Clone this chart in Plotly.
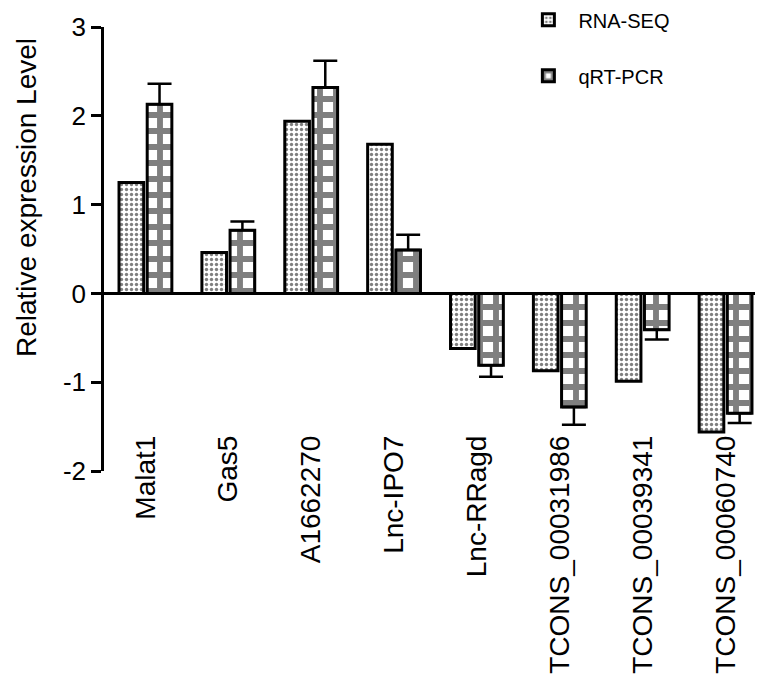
import plotly.graph_objects as go

categories = ["Malat1", "Gas5", "A1662270", "Lnc-IPO7", "Lnc-RRagd",
              "TCONS_00031986", "TCONS_00039341", "TCONS_00060740"]
rna_seq = [1.25, 0.46, 1.94, 1.68, -0.62, -0.87, -0.99, -1.56]
qrt_pcr = [2.13, 0.71, 2.32, 0.49, -0.81, -1.28, -0.41, -1.35]
qrt_err = [0.23, 0.10, 0.30, 0.17, 0.13, 0.20, 0.11, 0.11]
y_ticks = [-2, -1, 0, 1, 2, 3]
y_ticktext = ["-2", "-1", "0", "1", "2", "3"]
y_title = "Relative expression Level"

err_up = [e if v >= 0 else 0 for v, e in zip(qrt_pcr, qrt_err)]
err_dn = [e if v < 0 else 0 for v, e in zip(qrt_pcr, qrt_err)]

FONT = "Liberation Sans, Arial, sans-serif"

fig = go.Figure()
fig.add_trace(go.Bar(
    name="RNA-SEQ", x=categories, y=rna_seq, legendgroup="a",
    marker=dict(color="white", line=dict(color="black", width=3),
                pattern=dict(shape=".", fgcolor="black", bgcolor="white",
                             size=5, solidity=0.36)),
))
fig.add_trace(go.Bar(
    name="qRT-PCR", x=categories, y=qrt_pcr, legendgroup="b",
    marker=dict(color="white", line=dict(color="black", width=3),
                pattern=dict(shape="+", fgcolor="black", bgcolor="white",
                             size=16, solidity=0.6)),
    error_y=dict(type="data", symmetric=False, array=err_up, arrayminus=err_dn,
                 color="black", thickness=2.5, width=12),
))

fig.add_annotation(text=y_title, xref="paper", yref="paper",
                   x=-0.116, y=0.615, xanchor="center", yanchor="middle",
                   textangle=-90, showarrow=False, borderpad=0,
                   font=dict(size=28, family=FONT, color="black"))

fig.update_layout(
    width=763, height=688,
    margin=dict(l=96, r=4, t=19, b=225, autoexpand=False),
    paper_bgcolor="white", plot_bgcolor="white",
    barmode="group", bargap=0.32, bargroupgap=0.125,
    font=dict(family=FONT, color="black"),
    showlegend=True,
    legend=dict(x=0.625, y=1.06, xanchor="left", yanchor="top",
                font=dict(size=20, family=FONT), tracegroupgap=27,
                bgcolor="rgba(0,0,0,0)", itemwidth=50),
    xaxis=dict(showline=False, ticks="", tickangle=-90,
               tickfont=dict(size=28, family=FONT), showgrid=False,
               range=[-0.5, 7.5], ticklabelstandoff=-42),
    yaxis=dict(range=[-2, 3], tickvals=y_ticks, ticktext=y_ticktext,
               showgrid=False,
               showline=True, linecolor="black", linewidth=2.5,
               ticks="outside", ticklen=10, tickwidth=2.5, tickcolor="black",
               tickfont=dict(size=26, family=FONT),
               zeroline=True, zerolinecolor="black", zerolinewidth=2.5),
)

fig.write_html("out.html")
